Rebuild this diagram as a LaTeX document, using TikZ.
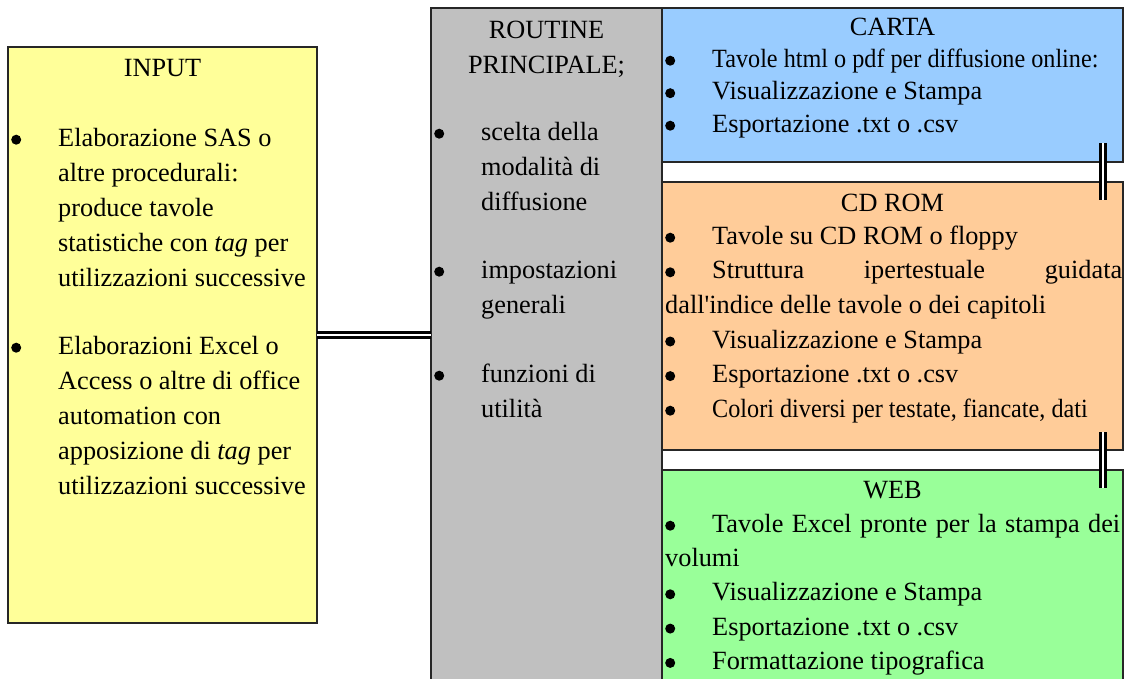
\documentclass[tikz,border=0pt]{standalone}
\usepackage{fontspec}
\setmainfont{Liberation Serif}
\usepackage{graphicx}
\usepackage{tikz}
\definecolor{inputyellow}{HTML}{FFFF99}
\definecolor{routinegrey}{HTML}{C0C0C0}
\definecolor{cartablue}{HTML}{99CCFF}
\definecolor{cdorange}{HTML}{FFCC99}
\definecolor{webgreen}{HTML}{99FF99}
\newcommand{\bul}{\makebox[47pt][l]{\tikz[baseline=0pt]\fill (5pt,6.5pt) circle (5pt);}}
\newcommand{\ind}{\hspace*{47pt}}
\newcommand{\topstrut}{\rule{0pt}{20pt}}
\tikzset{
  box/.style={rectangle, draw=black!85, line width=1.5pt, anchor=north west, inner sep=0pt, outer sep=0pt},
  title/.style={anchor=north, inner sep=0pt, align=center},
  body/.style={anchor=north west, inner sep=0pt, align=left},
  link/.style={double, double distance=2.8pt, line width=2.2pt}
}

\begin{document}
\begin{tikzpicture}[x=1pt, y=-1pt, font=\fontsize{26.3}{35}\selectfont]
    \useasboundingbox (0,0) rectangle (1126,679);
    \clip (0,0) rectangle (1126,679);

    % boxes
    \node[box, fill=inputyellow, minimum width=309pt, minimum height=576pt] (input) at (8,47) {};
    \node[box, fill=routinegrey, minimum width=231pt, minimum height=720pt] (routine) at (431,8) {};
    \node[box, fill=cartablue, minimum width=461pt, minimum height=154pt] (carta) at (662,8) {};
    \node[box, fill=cdorange, minimum width=461pt, minimum height=268pt] (cdrom) at (662,182) {};
    \node[box, fill=webgreen, minimum width=461pt, minimum height=260pt] (web) at (662,470) {};

    % titles
    \node[title] (inputtitle) at ([yshift=-9pt]input.north) {\topstrut INPUT};
    \node[title] (routinetitle) at ([yshift=-10pt]routine.north) {\topstrut ROUTINE\\PRINCIPALE;};
    \node[title] (cartatitle) at ([yshift=-7pt]carta.north) {\topstrut CARTA};
    \node[title] (cdromtitle) at ([yshift=-9pt]cdrom.north) {\topstrut CD ROM};
    \node[title] (webtitle) at ([yshift=-8pt]web.north) {\topstrut WEB};

    % texts
    \node[body] (inputbody) at ([xshift=3pt, yshift=-79pt]input.north west) {\topstrut\bul Elaborazione SAS o\\
        \ind altre procedurali:\\
        \ind produce tavole\\
        \ind statistiche con \textit{tag} per\\
        \ind utilizzazioni successive\\[33pt]
        \bul Elaborazioni Excel o\\
        \ind Access o altre di office\\
        \ind automation con\\
        \ind apposizione di \textit{tag} per\\
        \ind utilizzazioni successive};
    \node[body] (routinebody) at ([xshift=3pt, yshift=-112pt]routine.north west) {\topstrut\bul scelta della\\
        \ind modalità di\\
        \ind diffusione\\[33pt]
        \bul impostazioni\\
        \ind generali\\[34pt]
        \bul funzioni di\\
        \ind utilità};
    \node[body, font=\fontsize{26.3}{32.5}\selectfont] (cartabody) at ([xshift=3pt, yshift=-39pt]carta.north west) {\topstrut\bul\scalebox{0.92}[1]{Tavole html o pdf per diffusione online:}\\
        \bul Visualizzazione e Stampa\\
        \bul Esportazione .txt o .csv};
    \node[body, font=\fontsize{26.3}{34.6}\selectfont] (cdrombody) at ([xshift=3pt, yshift=-42pt]cdrom.north west) {\topstrut\bul Tavole su CD ROM o floppy\\
        \makebox[457pt][s]{\bul Struttura ipertestuale guidata}\\
        dall\textquotesingle indice delle tavole o dei capitoli\\
        \bul Visualizzazione e Stampa\\
        \bul Esportazione .txt o .csv\\
        \bul\scalebox{0.92}[1]{Colori diversi per testate, fiancate, dati}};
    \node[body, font=\fontsize{26.3}{34.3}\selectfont] (webbody) at ([xshift=3pt, yshift=-42pt]web.north west) {\topstrut\makebox[455pt][s]{\bul Tavole Excel pronte per la stampa dei}\\
        volumi\\
        \bul Visualizzazione e Stampa\\
        \bul Esportazione .txt o .csv\\
        \bul Formattazione tipografica};

    % links
    \draw[link] (input.east) -- (input.east -| routine.west);
    \draw[link] ([xshift=-20pt, yshift=19pt]carta.south east) -- ([xshift=-20pt, yshift=-18pt]cdrom.north east);
    \draw[link] ([xshift=-20pt, yshift=18pt]cdrom.south east) -- ([xshift=-20pt, yshift=-18pt]web.north east);
\end{tikzpicture}
\end{document}
